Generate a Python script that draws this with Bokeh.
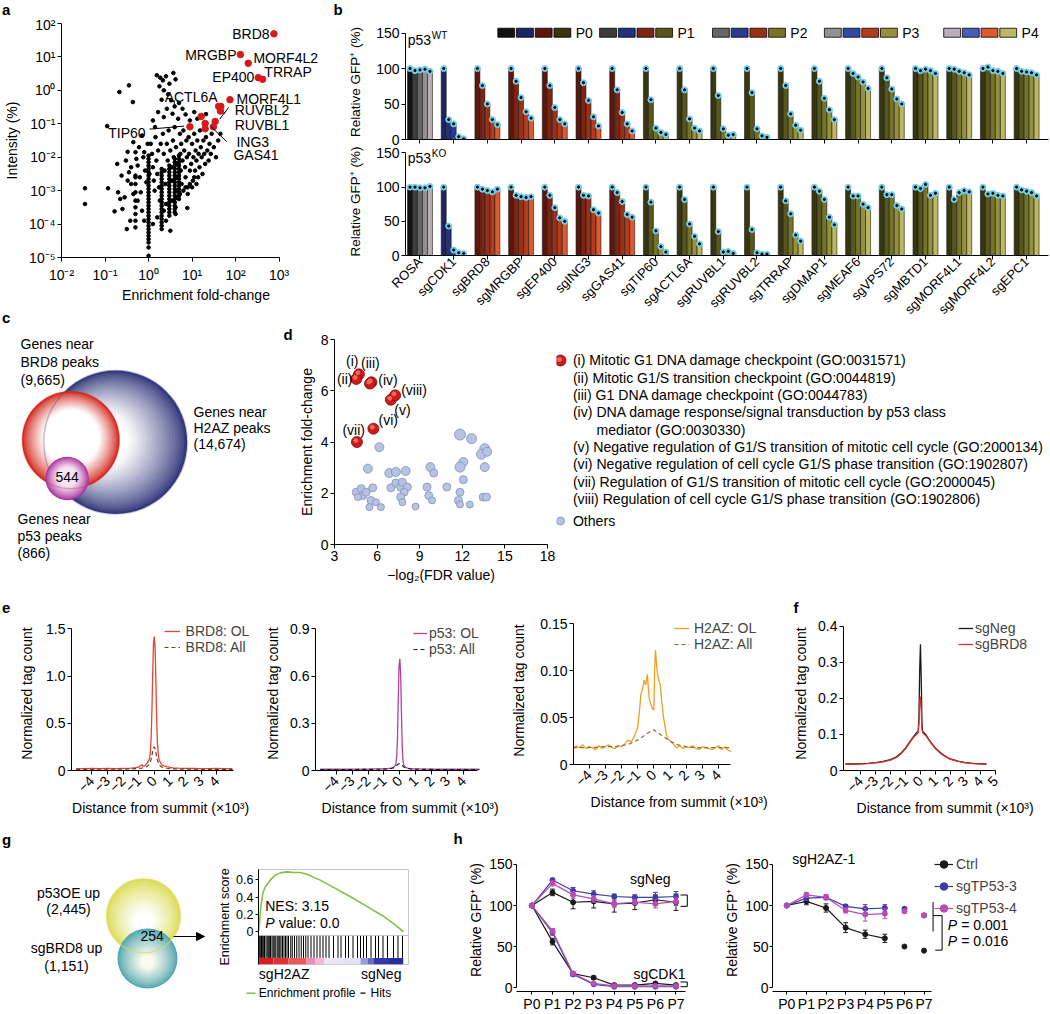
import numpy as np
from bokeh.plotting import figure
from bokeh.layouts import row, column
from bokeh.models import Range1d, FixedTicker, Legend, LegendItem, Arrow, NormalHead
from bokeh.core.properties import value
from bokeh.embed import file_html
from bokeh.resources import INLINE

FONT = "Liberation Sans"
FS = "14px"

# ======================= DATA =======================
# (a) log10 fold-change / log10 intensity of co-purified proteins
a_cloud = [
 (-1.46,-2.93),(-1.46,-3.40),(-0.93,-2.93),(-0.95,-1.07),(-0.67,-0.05),(-0.45,0.15),(-0.36,-0.35),
 (-0.78,-3.62),(-0.70,-3.05),(-0.60,-3.55),(-0.55,-3.20),(-0.50,-4.15),(-0.42,-3.90),(-0.62,-2.55),
 (-0.52,-2.10),(-0.45,-2.45),(-0.40,-2.80),(-0.35,-1.55),(-0.30,-1.85),(-0.25,-2.25),(-0.20,-2.60),
 (-0.18,-3.05),(-0.15,-1.35),(-0.12,-2.00),(-0.08,-2.40),(-0.05,-2.75),(-0.48,-1.84),(-0.72,-2.20),
 (-0.28,-2.05),(-0.22,-1.70),(-0.10,-1.85),(-0.02,-1.60),(0.02,-2.50),(-0.25,-3.30),(-0.15,-3.60),
 (-0.35,-3.10),(-0.40,-2.30),(-0.48,-2.70),(-0.30,-2.60),(-0.65,-3.25),(-0.10,-3.90),
 (0.19,0.45),(0.27,0.38),(0.33,0.30),(0.40,0.42),(0.57,0.52),(0.48,0.20),(0.62,0.33),(0.25,0.12),
 (0.35,0.00),(0.45,-0.12),(0.30,-0.28),(0.52,-0.30),(0.60,-0.48),(0.70,-0.38),(0.78,-0.55),
 (0.42,-0.55),(0.22,-0.65),(0.35,-0.80),(0.55,-0.70),(0.68,-0.85),(0.85,-0.72),(0.95,-0.90),
 (1.05,-0.65),(1.12,-0.85),(0.10,-0.90),(0.15,-1.10),(1.32,-0.71),
 (0.05,-1.60),(0.08,-1.90),(0.10,-2.30),(0.12,-2.70),(0.14,-3.00),(0.16,-1.40),(0.18,-2.10),
 (0.20,-2.50),(0.22,-1.80),(0.24,-2.90),(0.26,-3.30),(0.28,-1.60),(0.33,-1.30),(0.35,-1.90),
 (0.37,-2.40),(0.39,-2.80),(0.40,-3.40),(0.42,-1.60),(0.44,-2.10),(0.46,-1.20),(0.50,-1.80),
 (0.52,-2.30),(0.54,-2.70),(0.56,-1.50),(0.58,-2.00),(0.60,-1.10),(0.63,-1.70),(0.65,-2.20),
 (0.66,-2.60),(0.68,-3.00),(0.72,-1.30),(0.73,-1.90),(0.74,-2.40),(0.75,-1.60),(0.76,-2.80),
 (0.78,-2.10),(0.80,-1.20),(0.82,-1.80),(0.84,-2.30),(0.85,-2.60),(0.87,-1.50),(0.88,-2.00),
 (0.90,-2.90),(0.92,-1.40),(0.93,-1.90),(0.95,-2.40),(0.97,-1.10),(0.98,-2.20),(1.00,-1.60),
 (1.02,-2.70),(1.03,-2.00),(1.05,-1.30),(1.07,-2.40),(1.08,-1.80),(1.10,-2.10),(1.12,-1.50),
 (1.14,-2.60),(1.15,-1.90),(1.17,-2.30),(1.18,-1.20),(1.20,-1.70),(1.22,-2.00),(1.24,-2.50),
 (1.26,-1.50),(1.28,-1.90),(1.30,-2.20),(1.32,-1.40),(1.35,-1.80),(1.38,-2.10),(1.40,-1.60),
 (1.43,-1.90),(1.45,-1.30),(1.50,-1.70),(1.55,-2.00),(1.60,-1.50),(1.65,-1.30),
 (0.35,-3.60),(0.40,-3.90),(0.55,-3.30),(0.62,-3.50),(0.65,-3.20),(0.72,-3.10),(0.80,-3.00),
 (0.85,-2.90),(0.90,-3.10),(0.95,-2.80),(1.00,-2.90),(1.05,-2.60),(1.10,-2.80),(0.62,-3.70),
 (0.50,-4.20),(0.20,-3.80),(0.10,-4.00),(0.89,-3.52),
]
a_stripe_fc = [1, 2, 3, 4, 5, 0.5]
a_stripe_logint = [
 [-1.95,-2.05,-2.15,-2.25,-2.35,-2.45,-2.55,-2.65,-2.75,-2.85,-2.95,-3.05,-3.15,-3.25,-3.35,-3.45,-3.55,-3.65,-3.75,-3.85,-3.95,-4.05,-4.15,-4.25,-4.35,-4.45,-4.55,-4.70,-4.95],
 [-2.35,-2.45,-2.55,-2.65,-2.75,-2.85,-2.95,-3.05,-3.15,-3.25,-3.35,-3.45,-3.55,-3.65,-3.75,-3.85,-3.95,-4.05,-4.15],
 [-2.25,-2.35,-2.45,-2.55,-2.65,-2.75,-2.85,-2.95,-3.05,-3.15,-3.25,-3.35,-3.45,-3.55,-3.65,-3.75],
 [-2.05,-2.15,-2.25,-2.35,-2.45,-2.55,-2.65,-2.75,-2.85,-2.95,-3.05,-3.15,-3.25,-3.35,-3.45,-3.55,-3.65],
 [-1.95,-2.05,-2.15,-2.25,-2.35,-2.45,-2.55,-2.65,-2.75,-2.85,-2.95,-3.05,-3.15,-3.25],
 [-2.55,-2.80,-3.05,-3.30,-3.50,-3.70,-3.90,-4.10],
]
a_red_logfc = [2.88, 2.11, 2.29, 2.52, 2.62, 1.87, 1.61, 1.66, 1.65, 1.21, 1.30, 1.30, 1.53, 1.49, 0.95]
a_red_logint = [1.69, 1.07, 0.81, 0.38, 0.33, -0.28, -0.48, -0.48, -0.62, -0.78, -0.99, -1.15, -0.93, -1.09, -1.09]
a_names = ["BRD8", "MRGBP", "MORF4L2", "EP400", "TRRAP", "MORF4L1", "RUVBL2", "RUVBL1", "ING3", "GAS41", "ACTL6A", "TIP60"]
a_xticks = [0.01, 0.1, 1, 10, 100, 1000]
a_xlabels = ["10⁻²", "10⁻¹", "10⁰", "10¹", "10²", "10³"]
a_yticks = [1e-05, 0.0001, 0.001, 0.01, 0.1, 1, 10, 100]
a_ylabels = ["10⁻⁵", "10⁻⁴", "10⁻³", "10⁻²", "10⁻¹", "10⁰", "10¹", "10²"]

# (b) relative GFP+ (%) at passages P0..P4
b_groups = ["ROSA", "sgCDK1", "sgBRD8", "sgMRGBP", "sgEP400", "sgING3", "sgGAS41", "sgTIP60", "sgACTL6A",
            "sgRUVBL1", "sgRUVBL2", "sgTRRAP", "sgDMAP1", "sgMEAF6", "sgVPS72", "sgMBTD1", "sgMORF4L1",
            "sgMORF4L2", "sgEPC1"]
b_family = ["gray", "blue"] + ["red"] * 5 + ["olive"] * 12
b_passages = ["P0", "P1", "P2", "P3", "P4"]
b_wt = [[100,97,98,99,96],[100,28,22,4,1],[100,76,50,28,21],[100,82,59,39,30],[100,76,45,28,22],
        [100,80,55,32,19],[100,70,38,22,12],[100,56,16,10,7],[100,70,29,16,12],[100,62,15,6,7],
        [100,66,15,5,3],[100,76,36,20,13],[100,82,58,42,28],[100,93,88,81,72],[100,87,71,57,50],
        [100,97,99,97,93],[100,99,96,94,91],[100,102,97,96,93],[100,96,95,94,91]]
b_ko = [[100,100,99,99,101],[100,43,8,4,3],[100,97,95,93,97],[100,88,86,85,86],[100,88,70,55,50],
        [100,88,87,67,62],[100,92,79,60,56],[100,78,36,13,5],[100,82,46,28,17],[100,35,5,6,3],
        [100,38,4,2,2],[100,80,61,30,21],[100,94,82,56,45],[100,87,87,75,70],[100,89,89,73,68],
        [100,98,104,88,91],[100,82,92,95,93],[100,90,91,88,87],[100,96,94,92,87]]

# (c) Venn counts
c_brd8, c_h2az, c_p53, c_overlap = "9,665", "14,674", "866", "544"

# (d) GO enrichment
d_go_x = [4.72, 4.53, 5.60, 5.50, 6.97, 5.74, 4.58, 7.27]
d_go_y = [6.64, 6.46, 6.33, 6.28, 5.65, 4.52, 4.00, 5.82]
d_go_lab = ["(i)", "(ii)", "(iii)", "(iv)", "(v)", "(vi)", "(vii)", "(viii)"]
d_oth_x = [11.84,12.65,6.16,13.58,13.35,13.75,12.07,11.84,13.58,5.35,6.86,7.32,8.01,9.75,9.99,12.07,4.53,4.88,5.00,5.23,
           5.69,5.57,5.92,6.27,5.46,4.65,6.97,7.32,7.66,7.78,8.13,7.90,7.66,7.78,8.71,9.52,9.64,9.87,10.91,11.84,
           11.73,11.84,12.53,13.47,13.70]
d_oth_y = [4.29,4.13,3.80,3.74,3.52,3.62,3.22,3.02,3.02,2.96,2.79,2.83,2.87,3.02,2.79,2.53,2.04,2.18,1.91,2.04,
           2.21,1.72,1.65,1.46,1.46,1.85,2.21,2.40,2.24,2.43,2.24,2.04,1.85,1.65,1.48,2.24,1.91,1.72,2.24,2.04,
           1.72,1.56,1.56,1.85,1.85]
d_oth_s = [11,10,9,10,10,9,9,10,9,9,9,9,9,9,8,8,8,8,8,8,8,8,7,7,7,7,8,8,8,8,8,8,8,7,7,8,8,7,8,8,8,7,7,8,8]
d_terms = ["(i) Mitotic G1 DNA damage checkpoint  (GO:0031571)",
           "(ii) Mitotic G1/S transition checkpoint (GO:0044819)",
           "(iii) G1 DNA damage checkpoint (GO:0044783)",
           "(iv) DNA damage response/signal transduction by p53 class",
           "mediator (GO:0030330)",
           "(v) Negative regulation of G1/S transition of mitotic cell cycle (GO:2000134)",
           "(vi) Negative regulation of cell cycle G1/S phase transition (GO:1902807)",
           "(vii) Regulation of G1/S transition of mitotic cell cycle (GO:2000045)",
           "(viii) Regulation of cell cycle G1/S phase transition (GO:1902806)"]

# (e) ChIP profiles (distance in kb, normalized tag count)
e1_x = [-5.0,-4.5,-4.0,-3.5,-3.0,-2.5,-2.0,-1.5,-1.2,-1.0,-0.8,-0.7,-0.6,-0.5,-0.4,-0.3,-0.25,-0.2,-0.15,-0.1,-0.05,
        0.0,0.05,0.1,0.15,0.2,0.25,0.3,0.4,0.5,0.6,0.8,1.0,1.2,1.5,2.0,2.5,3.0,3.5,4.0,4.5,5.0]
e1_brd8_ol = [0.02,0.02,0.021,0.02,0.022,0.02,0.023,0.025,0.03,0.035,0.06,0.045,0.05,0.07,0.09,0.13,0.2,0.35,0.65,1.05,1.35,
              1.42,1.3,0.95,0.55,0.3,0.18,0.12,0.08,0.06,0.05,0.04,0.032,0.028,0.025,0.022,0.021,0.02,0.02,0.021,0.02,0.02]
e1_brd8_all = [0.012,0.012,0.012,0.013,0.013,0.014,0.015,0.017,0.02,0.022,0.026,0.03,0.034,0.04,0.05,0.07,0.09,0.12,0.16,0.21,0.24,
               0.25,0.23,0.19,0.15,0.11,0.085,0.065,0.045,0.035,0.03,0.024,0.02,0.018,0.016,0.014,0.013,0.013,0.012,0.012,0.012,0.012]
e2_p53_ol = [0.008,0.008,0.008,0.008,0.009,0.009,0.009,0.01,0.01,0.011,0.012,0.013,0.014,0.016,0.02,0.03,0.045,0.08,0.2,0.45,0.66,
             0.71,0.62,0.38,0.15,0.06,0.035,0.025,0.018,0.015,0.013,0.011,0.01,0.01,0.009,0.009,0.008,0.008,0.008,0.008,0.008,0.008]
e2_p53_all = [0.006,0.006,0.006,0.006,0.006,0.007,0.007,0.008,0.008,0.009,0.01,0.011,0.012,0.014,0.017,0.022,0.027,0.032,0.037,0.041,0.043,
              0.044,0.042,0.038,0.033,0.028,0.023,0.019,0.015,0.012,0.011,0.009,0.008,0.008,0.007,0.007,0.006,0.006,0.006,0.006,0.006,0.006]
e3_x = [-5.0,-4.8,-4.6,-4.4,-4.2,-4.0,-3.8,-3.6,-3.4,-3.2,-3.0,-2.8,-2.6,-2.4,-2.2,-2.0,-1.8,-1.6,-1.4,-1.2,
        -1.0,-0.9,-0.8,-0.7,-0.6,-0.5,-0.4,-0.3,-0.2,-0.1,0.0,0.05,0.1,0.2,0.3,0.4,0.5,0.6,0.7,0.8,0.9,1.0,
        1.2,1.4,1.6,1.8,2.0,2.2,2.4,2.6,2.8,3.0,3.2,3.4,3.6,3.8,4.0,4.2,4.4,4.6,4.8]
e3_h2az_ol = [0.017,0.02,0.018,0.021,0.017,0.019,0.018,0.016,0.02,0.017,0.019,0.021,0.018,0.017,0.02,0.019,0.022,0.026,0.024,0.03,
              0.04,0.055,0.075,0.08,0.09,0.085,0.096,0.072,0.065,0.06,0.058,0.1,0.122,0.1,0.09,0.085,0.065,0.05,0.04,0.03,0.027,0.025,
              0.022,0.018,0.02,0.017,0.019,0.018,0.02,0.017,0.016,0.019,0.018,0.017,0.016,0.018,0.02,0.016,0.019,0.015,0.014]
e3_all_x = [-5.0,-4.0,-3.0,-2.5,-2.0,-1.5,-1.0,-0.5,-0.25,0.0,0.25,0.5,1.0,1.5,2.0,2.5,3.0,4.0,4.8]
e3_h2az_all = [0.018,0.018,0.019,0.019,0.02,0.022,0.026,0.032,0.035,0.037,0.034,0.031,0.025,0.021,0.019,0.018,0.018,0.018,0.018]

# (f)
f_x = [-5.0,-4.5,-4.0,-3.5,-3.0,-2.5,-2.0,-1.6,-1.3,-1.0,-0.7,-0.5,-0.35,-0.25,-0.15,-0.1,-0.05,0.0,
       0.05,0.1,0.15,0.25,0.35,0.5,0.7,1.0,1.4,1.8,2.0,2.5,3.0,3.5,4.0,4.4]
f_sgneg = [0.018,0.018,0.019,0.02,0.022,0.025,0.03,0.038,0.048,0.062,0.08,0.092,0.1,0.105,0.11,0.15,0.28,0.35,
           0.26,0.13,0.108,0.104,0.1,0.09,0.078,0.062,0.047,0.036,0.032,0.026,0.022,0.02,0.019,0.018]
f_sgbrd8 = [0.017,0.017,0.018,0.019,0.021,0.024,0.029,0.036,0.046,0.06,0.078,0.09,0.097,0.1,0.105,0.13,0.19,0.205,
            0.17,0.115,0.105,0.1,0.097,0.088,0.076,0.06,0.045,0.035,0.031,0.025,0.021,0.019,0.018,0.017]

# (g) overlap + GSEA
g_p53oe, g_sgbrd8, g_overlap = "2,445", "1,151", "254"
g_es_x = [0.0,0.007,0.016,0.029,0.044,0.056,0.078,0.111,0.144,0.189,0.233,0.278,0.322,0.411,0.5,0.611,0.722,0.833,0.922,0.967]
g_es_y = [0.0,0.106,0.294,0.445,0.513,0.540,0.596,0.653,0.679,0.691,0.683,0.683,0.664,0.596,0.513,0.408,0.294,0.181,0.068,0.0]
g_hits = [0.005,0.012,0.02,0.028,0.035,0.04,0.05,0.058,0.065,0.072,0.08,0.09,0.098,0.105,0.115,0.125,0.135,0.142,0.15,0.16,
          0.17,0.18,0.19,0.2,0.215,0.225,0.24,0.255,0.27,0.285,0.3,0.315,0.33,0.35,0.37,0.39,0.41,0.43,0.45,0.47,
          0.5,0.53,0.55,0.58,0.6,0.63,0.66,0.68,0.7,0.72,0.75,0.78,0.8,0.83,0.86,0.9,0.93,0.96]
g_nes, g_pval = "3.15", "0.0"

# (h) relative GFP+ (%) over passages
h_pass = ["P0", "P1", "P2", "P3", "P4", "P5", "P6", "P7"]
h1_neg_ctrl = [100,116,104,105,102,103,107,104]; h1_neg_ctrl_e = [0,4,8,8,10,8,6,10]
h1_neg_t3 = [100,131,118,114,111,110,110,111];   h1_neg_t3_e = [0,2,4,4,3,3,6,6]
h1_neg_t4 = [100,127,113,108,102,104,102,105];   h1_neg_t4_e = [0,3,4,4,4,3,5,5]
h1_cdk_ctrl = [100,56,17,12,3,3,5,3];            h1_cdk_ctrl_e = [0,4,2,2,1,1,1,1]
h1_cdk_t3 = [100,67,16,4,1,1,1,1];               h1_cdk_t3_e = [0,3,2,1,1,1,1,1]
h1_cdk_t4 = [100,69,17,5,2,2,2,2];               h1_cdk_t4_e = [0,3,2,1,1,1,1,1]
h2_ctrl = [100,105,97,73,65,60,50,45];           h2_ctrl_e = [0,4,5,6,5,5,0,0]
h2_t3 = [100,109,110,99,96,97,96,88];            h2_t3_e = [0,3,3,2,5,4,2,2]
h2_t4 = [100,113,110,94,89,90,93,88];            h2_t4_e = [0,3,3,3,8,6,2,2]
h_pvals = ["0.001", "0.016"]

# ======================= HELPERS =======================
def mix(c1, c2, t):
    a = [int(c1[i:i + 2], 16) for i in (1, 3, 5)]
    b = [int(c2[i:i + 2], 16) for i in (1, 3, 5)]
    return "#%02x%02x%02x" % tuple(int(round(a[i] + (b[i] - a[i]) * t)) for i in range(3))


def base_fig(w, h, l, r, t, b, xr, yr, **kw):
    p = figure(width=w, height=h, x_range=xr, y_range=yr, output_backend="svg", toolbar_location=None,
               title=None, min_border_left=l, min_border_right=r, min_border_top=t, min_border_bottom=b, **kw)
    p.frame_align = False
    p.outline_line_color = None
    for g in p.grid:
        g.visible = False
    return p


def style_axes(p, tick_out=4, standoff=2, title_standoff=4, fs=FS):
    for ax in p.axis:
        ax.axis_line_color = "black"
        ax.axis_line_width = 1
        ax.major_tick_line_color = "black"
        ax.major_tick_in = 0
        ax.major_tick_out = tick_out
        ax.minor_tick_line_color = None
        ax.major_label_text_font = FONT
        ax.major_label_text_font_size = fs
        ax.major_label_text_color = "black"
        ax.major_label_standoff = standoff
        ax.axis_label_text_font = FONT
        ax.axis_label_text_font_size = fs
        ax.axis_label_text_font_style = "normal"
        ax.axis_label_text_color = "black"
        ax.axis_label_standoff = title_standoff


def pix_fig(w, h):
    p = figure(width=w, height=h, x_range=Range1d(0, w), y_range=Range1d(h, 0), output_backend="svg",
               toolbar_location=None, title=None, x_axis_location=None, y_axis_location=None, min_border=0)
    p.frame_align = False
    p.outline_line_color = None
    for g in p.grid:
        g.visible = False
    return p


def txt(p, x, y, s, align="left", fs=FS, style="normal", color="black", baseline="middle"):
    p.text(x=[x], y=[y], text=[s], text_align=align, text_baseline=baseline, text_font=value(FONT),
           text_font_size=value(fs), text_font_style=style, text_color=color)


def letter(p, x, y, ch):
    txt(p, x, y, ch, fs="15px", style="bold")


def grad_disc(p, cx, cy, r, edge, inner="#ffffff", wf=0.55, n=32, gamma=0.8, off=(0.0, 0.0)):
    xs, ys, rs, cols = [], [], [], []
    for k in range(n):
        f = k / n
        xs.append(cx + off[0] * f)
        ys.append(cy + off[1] * f)
        rs.append(r * (1 - f))
        t = min(1.0, f / wf) ** gamma
        cols.append(mix(edge, inner, t))
    p.circle(x=xs, y=ys, radius=rs, fill_color=cols, line_color=None)


def err_bars(p, xs, ys, es, color, cap=0.12):
    x0, y0, x1, y1 = [], [], [], []
    for x, y, e in zip(xs, ys, es):
        if e <= 0:
            continue
        x0 += [x, x - cap, x - cap]; y0 += [y - e, y - e, y + e]
        x1 += [x, x + cap, x + cap]; y1 += [y + e, y - e, y + e]
    if x0:
        p.segment(x0=x0, y0=y0, x1=x1, y1=y1, color=color, line_width=1)


def make_legend(p, items, x, y, glyph_w=16, standoff=5, item_h=16, fs=FS):
    leg = Legend(items=items, location=(x, y), orientation="vertical", glyph_width=glyph_w, glyph_height=item_h,
                 label_height=item_h, label_standoff=standoff, spacing=0, padding=0, margin=0,
                 border_line_color=None, background_fill_alpha=0, label_text_font=FONT, label_text_font_size=fs)
    p.add_layout(leg)

# ======================= letter strips =======================
strip1 = pix_fig(1050, 16)
letter(strip1, 1.5, 8.5, "a")
letter(strip1, 333, 8.5, "b")
strip_c = pix_fig(330, 20)
letter(strip_c, 1.5, 11.5, "c")
strip3 = pix_fig(1050, 18)
letter(strip3, 1.5, 9.5, "e")
letter(strip3, 793, 9, "f")
strip4 = pix_fig(1050, 30)
letter(strip4, 1.5, 21, "g")
letter(strip4, 453, 20, "h")

# ======================= (a) =======================
pa = base_fig(330, 289, 58, 0, 7, 47, Range1d(0.01, 10 ** 4.18), Range1d(1e-5, 100),
              x_axis_type="log", y_axis_type="log")
style_axes(pa, standoff=2, title_standoff=6)
pa.xaxis.major_label_standoff = 5
pa.xaxis.axis_label_standoff = 1
pa.xaxis.ticker = FixedTicker(ticks=a_xticks)
pa.xaxis.major_label_overrides = dict(zip(a_xticks, a_xlabels))
pa.xaxis.bounds = (0.01, 1000)
pa.yaxis.ticker = FixedTicker(ticks=a_yticks)
pa.yaxis.major_label_overrides = dict(zip(a_yticks, a_ylabels))
pa.xaxis.axis_label = "Enrichment fold-change"
pa.yaxis.axis_label = "Intensity (%)"

cx = [10 ** v[0] for v in a_cloud]
cy = [10 ** v[1] for v in a_cloud]
for fc, ys in zip(a_stripe_fc, a_stripe_logint):
    cx += [fc] * len(ys)
    cy += [10 ** v for v in ys]
pa.scatter(x=cx, y=cy, size=3.6, color="black")
pa.scatter(x=[10 ** v for v in a_red_logfc], y=[10 ** v for v in a_red_logint], size=6.5, color="#d7191c")

A_LABEL_POS = [(2.78, 1.70, "right"), (2.02, 1.07, "right"), (2.41, 0.98, "left"), (2.43, 0.39, "right"),
               (2.66, 0.54, "left"), (2.02, -0.27, "left"), (1.98, -0.595, "left"), (1.98, -1.04, "left"),
               (2.02, -1.55, "left"), (1.95, -1.93, "left"), (0.977, -0.21, "center"), (-0.068, -1.28, "right")]
for name, (lx, ly, al) in zip(a_names, A_LABEL_POS):
    txt(pa, 10 ** lx, 10 ** ly, name, align=al)
A_LEADERS = [((0.023, -1.16), (0.818, -1.07)), ((0.59, -0.30), (0.59, -0.48)), ((1.727, -0.714), (1.84, -0.506)),
             ((1.636, -0.863), (1.75, -0.655)), ((1.425, -1.07), (1.795, -1.535))]
for (x0, y0), (x1, y1) in A_LEADERS:
    pa.line([10 ** x0, 10 ** x1], [10 ** y0, 10 ** y1], color="black", line_width=1)

# ======================= (b) =======================
B_PAL = {"gray": ["#111111", "#3c3c3c", "#666666", "#929292", "#b9b0b7"],
         "blue": ["#1c2462", "#243080", "#2c3a94", "#3548a6", "#4a5cb4"],
         "red": ["#5c160a", "#7e2412", "#9b3018", "#b43c1e", "#dc5a2e"],
         "olive": ["#38360f", "#57561b", "#757427", "#96923a", "#bfb862"]}
BW = 0.148


def bar_fig(vals, top):
    h = 130 if top else 179
    yr = Range1d(0, 162) if top else Range1d(0, 158)
    p = base_fig(720, h, 75, 2, 8 if top else 1, 7 if top else 66, Range1d(-0.43, 18.65), yr)
    style_axes(p, title_standoff=10)
    xs, tops, cols = [], [], []
    for i in range(len(b_groups)):
        fam = b_family[i]
        for j in range(5):
            xs.append(i + (j - 2) * BW)
            tops.append(vals[i][j])
            cols.append(B_PAL[fam][j])
    p.vbar(x=xs, top=tops, bottom=0, width=BW, fill_color=cols, line_color="#1a1a1a", line_width=0.6)
    p.scatter(x=xs, y=tops, size=6, color="#74cde6")
    p.scatter(x=xs, y=tops, size=2.2, color="black")
    p.yaxis.ticker = FixedTicker(ticks=[0, 50, 100, 150])
    p.yaxis.bounds = (0, 150)
    p.yaxis.axis_label = "Relative GFP⁺ (%)"
    p.yaxis.axis_label_text_font_size = "13.5px"
    p.xaxis.ticker = FixedTicker(ticks=list(range(len(b_groups))))
    if top:
        p.xaxis.major_label_text_font_size = "1px"
        p.xaxis.major_label_text_color = None
        p.xaxis.major_label_standoff = 0
    else:
        p.xaxis.major_label_overrides = {i: g for i, g in enumerate(b_groups)}
        p.xaxis.major_label_orientation = np.pi / 4
        p.xaxis.major_label_text_font_size = "13px"
        p.xaxis.major_label_standoff = 0
    return p


pbt = bar_fig(b_wt, True)
pbb = bar_fig(b_ko, False)
txt(pbt, -0.365, 139.9, "p53")
txt(pbt, 0.35, 146, "WT", fs="10px")
txt(pbb, -0.365, 143.3, "p53")
txt(pbb, 0.35, 149.5, "KO", fs="10px")
leg_x0 = [2.31, 5.33, 8.68, 12.0, 15.54]
rx, rc = [], []
for j, x0 in enumerate(leg_x0):
    for k, fam in enumerate(["gray", "blue", "red", "olive"]):
        rx.append(x0 + 0.25 + k * 0.555)
        rc.append(B_PAL[fam][j])
    txt(pbt, x0 + 2.31, 150.4, b_passages[j])
pbt.rect(x=rx, y=150.4, width=0.5, height=12.7, fill_color=rc, line_color="black", line_width=0.8)

# ======================= (c) =======================
pc = pix_fig(295, 273)
grad_disc(pc, 115, 116.7, 71.7, "#343a7c", wf=0.62, off=(-22, -4))
grad_disc(pc, 70.3, 114.5, 48.7, "#d42a20", wf=0.42, off=(2, -6))
pc.circle(x=[115], y=[116.7], radius=71.7, fill_color=None, line_color="#343a7c", line_alpha=0.3, line_width=1.5)
grad_disc(pc, 66.7, 153, 21.7, "#a8309c", inner="#f6e4f2", wf=0.55, off=(0, -3))
pc.circle(x=[70.3], y=[114.5], radius=48.7, fill_color=None, line_color="#d42a20", line_alpha=0.35, line_width=1.2)
txt(pc, 66.7, 151, c_overlap, align="center")
for i, s in enumerate(["Genes near", "BRD8 peaks", "(%s)" % c_brd8]):
    txt(pc, 20, 18 + 18 * i, s)
for i, s in enumerate(["Genes near", "H2AZ peaks", "(%s)" % c_h2az]):
    txt(pc, 193, 86 + 16 * i, s)
for i, s in enumerate(["Genes near", "p53 peaks", "(%s)" % c_p53]):
    txt(pc, 17, 193 + 17 * i, s)
letter(pc, 283, 8.5, "d")

# ======================= (d) =======================
pd_ = base_fig(261, 273, 36, 9, 14, 54, Range1d(3, 18), Range1d(0, 8))
style_axes(pd_, standoff=2, title_standoff=3)
pd_.xaxis.ticker = FixedTicker(ticks=[3, 6, 9, 12, 15, 18])
pd_.yaxis.ticker = FixedTicker(ticks=[0, 2, 4, 6, 8])
pd_.xaxis.axis_label = "−log₂(FDR value)"
pd_.yaxis.axis_label = "Enrichment fold-change"
pd_.scatter(x=d_oth_x, y=d_oth_y, size=d_oth_s, fill_color="#b6c3e3", line_color="#8190ba", line_width=0.8)
pd_.scatter(x=d_go_x, y=d_go_y, size=11, fill_color="#cc1a1a", line_color="#7a0a0a", line_width=0.8)
pd_.scatter(x=[v - 0.08 for v in d_go_x], y=[v + 0.06 for v in d_go_y], size=4, color="#ee6a5a")
D_LAB_POS = [(4.25, 7.15), (3.72, 6.45), (5.53, 7.08), (6.77, 6.41), (7.78, 5.24), (6.79, 4.87), (4.35, 4.48), (8.6, 6.02)]
for s, (lx, ly) in zip(d_go_lab, D_LAB_POS):
    txt(pd_, lx, ly, s, align="center")

pdl = pix_fig(494, 273)
pdl.scatter(x=[4], y=[35], size=11, fill_color="#cc1a1a", line_color="#7a0a0a", line_width=0.8)
pdl.scatter(x=[3], y=[34], size=4, color="#ee6a5a")
for i, s in enumerate(d_terms):
    txt(pdl, 40 if i == 4 else 16.4, 34.9 + 17.3 * i, s, fs="14.1px")
pdl.scatter(x=[4], y=[195.5], size=8, fill_color="#b6c3e3", line_color="#8190ba", line_width=0.8)
txt(pdl, 16.4, 195.5, "Others", fs="14.1px")

# ======================= (e) / (f) =======================
def prof_fig(w, l, b, xr, xb, yr, yb, yticks, ylabels, title_standoff, xticks):
    p = base_fig(w, 202, l, 0, 0, b, xr, yr)
    style_axes(p, standoff=2, title_standoff=title_standoff)
    p.yaxis.ticker = FixedTicker(ticks=yticks)
    p.yaxis.major_label_overrides = dict(zip(yticks, ylabels))
    p.yaxis.bounds = yb
    p.xaxis.bounds = xb
    p.xaxis.ticker = FixedTicker(ticks=xticks)
    p.xaxis.major_label_orientation = np.pi / 4
    p.xaxis.major_label_standoff = 4
    p.xaxis.axis_label_standoff = 0
    p.yaxis.axis_label = "Normalized tag count"
    p.xaxis.axis_label = "Distance from summit  (×10³)"
    return p


pe1 = prof_fig(253, 71, 45, Range1d(-5.3, 6.35), (-5.3, 5.1), Range1d(0, 1.632), (0, 1.5),
               [0, 0.5, 1.0, 1.5], ["0", "0.5", "1.0", "1.5"], 8, list(range(-4, 5)))
r1 = pe1.line(e1_x, e1_brd8_ol, color="#e8452c", line_width=1.3)
r2 = pe1.line(e1_x, e1_brd8_all, color="#6b3a2a", line_width=1.2, line_dash="4 3")
make_legend(pe1, [LegendItem(label="BRD8: OL", renderers=[r1]), LegendItem(label="BRD8: All", renderers=[r2])], 92.6, 114.9, 16, 6)

pe2 = prof_fig(255, 62, 45, Range1d(-5.3, 6.83), (-5.3, 4.88), Range1d(0, 0.979), (0, 0.9),
               [0, 0.3, 0.6, 0.9], ["0", "0.3", "0.6", "0.9"], 6, list(range(-4, 5)))
r1 = pe2.line(e1_x, e2_p53_ol, color="#b0449a", line_width=1.3)
r2 = pe2.line(e1_x, e2_p53_all, color="#1a1a1a", line_width=1.2, line_dash="4 3")
make_legend(pe2, [LegendItem(label="p53: OL", renderers=[r1]), LegendItem(label="p53: All", renderers=[r2])], 98, 113.3, 14, 2)

pe3 = prof_fig(280, 61, 54, Range1d(-4.97, 8.33), (-4.97, 4.77), Range1d(0, 0.1578), (0, 0.15),
               [0, 0.05, 0.1, 0.15], ["0", "0.05", "0.10", "0.15"], 10, list(range(-4, 5)))
r1 = pe3.line(e3_x, e3_h2az_ol, color="#f0a020", line_width=1.3)
r2 = pe3.line(e3_all_x, e3_h2az_all, color="#8b6b45", line_width=1.2, line_dash="4 3")
make_legend(pe3, [LegendItem(label="H2AZ: OL", renderers=[r1]), LegendItem(label="H2AZ: All", renderers=[r2])], 101, 112, 15, 5)

pf = prof_fig(262, 55, 47, Range1d(-5.13, 8.67), (-5.13, 5.0), Range1d(0, 0.4267), (0, 0.4),
              [0, 0.1, 0.2, 0.3, 0.4], ["0", "0.1", "0.2", "0.3", "0.4"], 6, list(range(-4, 6)))
r1 = pf.line(f_x, f_sgneg, color="#1a1a1a", line_width=1.3)
r2 = pf.line(f_x, f_sgbrd8, color="#e03030", line_width=1.3)
make_legend(pf, [LegendItem(label="sgNeg", renderers=[r1]), LegendItem(label="sgBRD8", renderers=[r2])], 115, 118, 15, 2)

# ======================= (g) =======================
pgv = pix_fig(215, 166)
grad_disc(pgv, 143, 67.3, 37, "#dcdc58", wf=0.75, off=(0, 8))
grad_disc(pgv, 147, 110, 30, "#52a6ae", inner="#fbfbf0", wf=0.8, off=(0, 4))
pgv.circle(x=[143], y=[67.3], radius=37, fill_color=None, line_color="#dcdc58", line_alpha=0.6, line_width=1.5)
txt(pgv, 151.7, 87, g_overlap, align="center")
txt(pgv, 68, 44.7, "p53OE up", align="center")
txt(pgv, 68, 60.3, "(%s)" % g_p53oe, align="center")
txt(pgv, 66, 99.7, "sgBRD8 up", align="center")
txt(pgv, 66, 117.7, "(%s)" % g_sgbrd8, align="center")
pgv.add_layout(Arrow(end=NormalHead(size=8, fill_color="black", line_color="black"),
                     x_start=173, y_start=88, x_end=204, y_end=88, line_width=1.2, line_color="black"))

pgs = base_fig(233, 136, 43, 40, 21, 19, Range1d(0, 1), Range1d(-0.374, 0.718))
style_axes(pgs, tick_out=3, standoff=2, title_standoff=1, fs="12.5px")
pgs.outline_line_color = "#c8c8c8"
pgs.yaxis.ticker = FixedTicker(ticks=[0, 0.2, 0.4, 0.6])
pgs.yaxis.major_label_overrides = {0: "0", 0.2: "0.2", 0.4: "0.4", 0.6: "0.6"}
pgs.yaxis.axis_label = "Enrichment score"
pgs.xaxis.axis_line_color = None
pgs.xaxis.major_tick_line_color = None
pgs.xaxis.major_tick_out = 0
pgs.xaxis.major_label_standoff = 1
pgs.xaxis.major_label_text_font_size = FS
pgs.xaxis.ticker = FixedTicker(ticks=[0.171, 0.818])
pgs.xaxis.major_label_overrides = {0.171: "sgH2AZ", 0.818: "sgNeg"}
CB_EDGES = [0, 0.10, 0.20, 0.32, 0.38, 0.44, 0.56, 0.68, 0.73, 0.77, 0.87, 0.965]
CB_COLS = ["#d81e1e", "#e03434", "#e85a5a", "#f08cb4", "#f2bcd4", "#ece6f2", "#e2e2f2", "#9a9ad8", "#6a6ac0", "#3636a8", "#2c2c9c"]
pgs.quad(left=CB_EDGES[:-1], right=CB_EDGES[1:], bottom=-0.374, top=-0.298, fill_color=CB_COLS, line_color=None)
pgs.segment(x0=[0], y0=[-0.04], x1=[1], y1=[-0.04], color="#c8c8c8", line_width=1)
pgs.segment(x0=g_hits, y0=-0.045, x1=g_hits, y1=-0.298, color="black", line_width=1)
pgs.line(g_es_x, g_es_y, color="#7ec440", line_width=1.6)
txt(pgs, 0.045, 0.295, "NES: %s" % g_nes)
txt(pgs, 0.045, 0.099, "P", style="italic")
txt(pgs, 0.135, 0.099, "value: %s" % g_pval)

strip_gl = pix_fig(233, 30)
strip_gl.line([31, 40], [8.7, 8.7], color="#7ec440", line_width=1.6)
txt(strip_gl, 43.3, 8.7, "Enrichment profile", fs="12px")
strip_gl.line([145, 150], [8.7, 8.7], color="black", line_width=1.2)
txt(strip_gl, 155, 8.7, "Hits", fs="12px")

# ======================= (h) =======================
C_CTRL, C_T3, C_T4 = "#1a1a1a", "#3c3ca8", "#b84db4"


def h_fig(w, l, r, xr, xb):
    p = base_fig(w, 166, l, r, 0, 20, xr, Range1d(-4.8, 169.5))
    style_axes(p, tick_out=3, standoff=1, title_standoff=2)
    p.yaxis.ticker = FixedTicker(ticks=[0, 50, 100, 150])
    p.yaxis.bounds = (0, 150)
    p.yaxis.axis_label = "Relative GFP⁺ (%)"
    p.xaxis.ticker = FixedTicker(ticks=list(range(8)))
    p.xaxis.major_label_overrides = {i: s for i, s in enumerate(h_pass)}
    p.xaxis.bounds = xb
    return p


X8 = list(range(8))
ph1 = h_fig(257, 68, 11, Range1d(-0.75, 7.9), (-0.75, 7.47))
for ys, es, c in [(h1_neg_ctrl, h1_neg_ctrl_e, C_CTRL), (h1_neg_t3, h1_neg_t3_e, C_T3), (h1_neg_t4, h1_neg_t4_e, C_T4),
                  (h1_cdk_ctrl, h1_cdk_ctrl_e, C_CTRL), (h1_cdk_t3, h1_cdk_t3_e, C_T3), (h1_cdk_t4, h1_cdk_t4_e, C_T4)]:
    ph1.line(X8, ys, color=c, line_width=1.2)
    err_bars(ph1, X8, ys, es, c)
    ph1.scatter(X8, ys, size=5, color=c)
txt(ph1, 5.75, 132.7, "sgNeg", align="center")
txt(ph1, 6.2, 16.4, "sgCDK1", align="center")
ph1.line([7.22, 7.55, 7.55, 7.22], [112.8, 112.8, 99, 99], color="black", line_width=1)
ph1.line([7.22, 7.55, 7.55, 7.22], [6.8, 6.8, 1.1, 1.1], color="black", line_width=1)

ph2 = h_fig(345, 67, 0, Range1d(-0.73, 13.45), (-0.73, 7.36))
leg_items = []
for ys, es, c, lab in [(h2_ctrl, h2_ctrl_e, C_CTRL, "Ctrl"), (h2_t3, h2_t3_e, C_T3, "sgTP53-3"), (h2_t4, h2_t4_e, C_T4, "sgTP53-4")]:
    rl = ph2.line(X8[:6], ys[:6], color=c, line_width=1.2)
    err_bars(ph2, X8, ys, es, c)
    rs = ph2.scatter(X8, ys, size=5, color=c)
    leg_items.append(LegendItem(label=lab, renderers=[rl, rs]))
make_legend(ph2, leg_items, 162, 72, 19, 3, 22)
txt(ph2, 1.88, 157, "sgH2AZ-1", align="center")
ph2.line([7.46, 7.46], [104.2, 68.3], color="black", line_width=1)
ph2.line([7.46, 7.92, 7.92, 7.57], [87.7, 87.7, 45.6, 45.6], color="black", line_width=1)
for yv, pv in zip([76, 56.8], h_pvals):
    txt(ph2, 8.21, yv, "P", style="italic")
    txt(ph2, 8.9, yv, "= %s" % pv)

# ======================= LAYOUT =======================
layout = column(
    strip1,
    row(column(pa, strip_c), column(pbt, pbb)),
    row(pc, pd_, pdl),
    strip3,
    row(pe1, pe2, pe3, pf),
    strip4,
    row(pgv, column(pgs, strip_gl), ph1, ph2),
)
open("out.html", "w").write(file_html(layout, INLINE))
